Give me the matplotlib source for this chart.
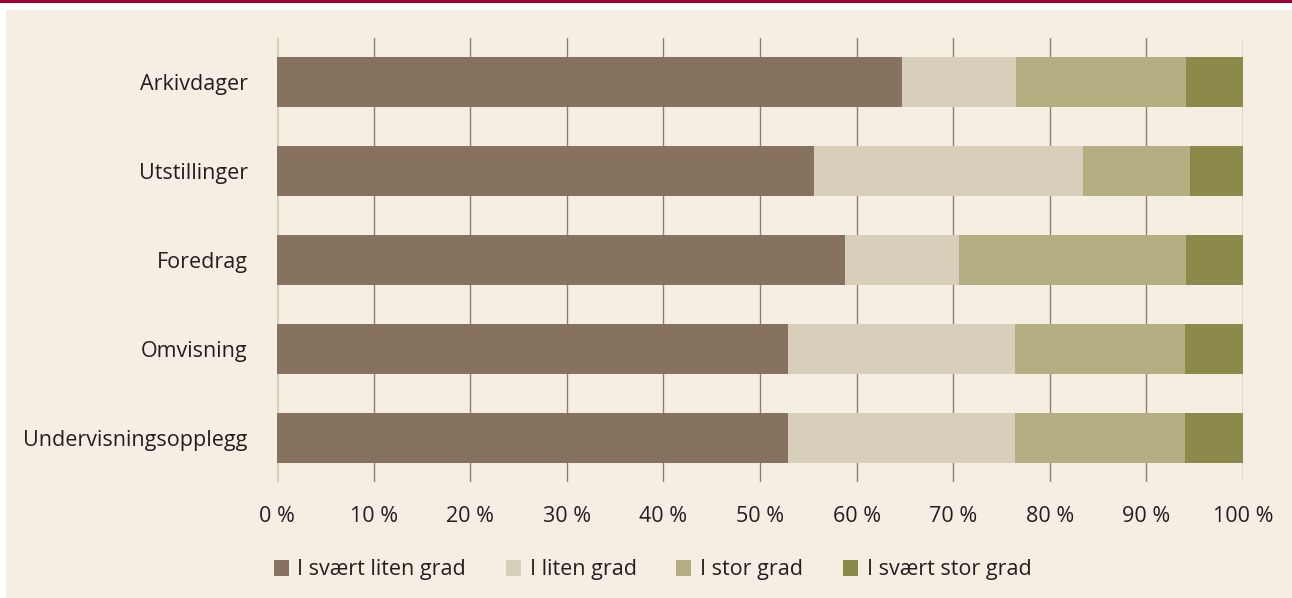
import matplotlib
matplotlib.use("Agg")
import matplotlib.pyplot as plt
from matplotlib.patches import Rectangle
import numpy as np

categories = ["Arkivdager", "Utstillinger", "Foredrag", "Omvisning", "Undervisningsopplegg"]
series_names = ["I svært liten grad", "I liten grad", "I stor grad", "I svært stor grad"]
svaert_liten = [64.7, 55.6, 58.8, 52.9, 52.9]
liten = [11.8, 27.8, 11.8, 23.5, 23.5]
stor = [17.6, 11.1, 23.5, 17.6, 17.6]
svaert_stor = [5.9, 5.5, 5.9, 6.0, 6.0]
tick_values = [0, 10, 20, 30, 40, 50, 60, 70, 80, 90, 100]
tick_labels = [f"{v} %" for v in tick_values]

colors = ["#86725F", "#D8CFBA", "#B4AE82", "#8C8A4B"]
bg = "#F5EEE2"
txt = "#231F20"
FS = 15.5

plt.rcParams['font.family'] = ['Open Sans', 'DejaVu Sans']

fig = plt.figure(figsize=(12.92, 5.98), dpi=100)
fig.patch.set_facecolor("white")
# background panel and top rule
fig.patches.append(Rectangle((6/1292, 0), 1 - 6/1292, 1 - 10/598, transform=fig.transFigure,
                             facecolor=bg, edgecolor="none", zorder=-10))
fig.patches.append(Rectangle((0, 1 - 2.5/598), 1, 2.5/598, transform=fig.transFigure,
                             facecolor="#A50034", edgecolor="none", zorder=-10))

ax = fig.add_axes([277/1292, 1 - 482/598, (1243-277)/1292, (482-38)/598])
ax.set_facecolor("none")

y = np.arange(len(categories))
data = [svaert_liten, liten, stor, svaert_stor]
left = np.zeros(len(categories))
for vals, c, name in zip(data, colors, series_names):
    ax.barh(y, vals, left=left, height=50/89, color=c, edgecolor="none", label=name, zorder=3)
    left = left + np.array(vals)

ax.set_xlim(0, 100)
ax.set_ylim(len(categories) - 0.5, -0.5)
ax.set_yticks(y)
ax.set_yticklabels(categories, fontsize=FS, color=txt)
ax.set_xticks(tick_values)
ax.set_xticklabels(tick_labels, fontsize=FS, color=txt)
ax.tick_params(axis="both", length=0)
ax.tick_params(axis="x", pad=17)
ax.tick_params(axis="y", pad=21)
for s in ax.spines.values():
    s.set_visible(False)

for v in tick_values[1:]:
    ax.axvline(v, color="#8E7E6E", lw=1.0, zorder=1)
ax.axvline(0, color="#D8CFBA", lw=2.2, zorder=2)

leg = fig.legend(loc="center", bbox_to_anchor=(652.5/1292, 1 - 570/598), ncol=4, frameon=False,
                 fontsize=FS, handlelength=0.7, handleheight=0.7, handletextpad=0.4,
                 columnspacing=1.85, labelcolor=txt, borderpad=0)

fig.savefig("out.png", dpi=100, facecolor=fig.get_facecolor())
